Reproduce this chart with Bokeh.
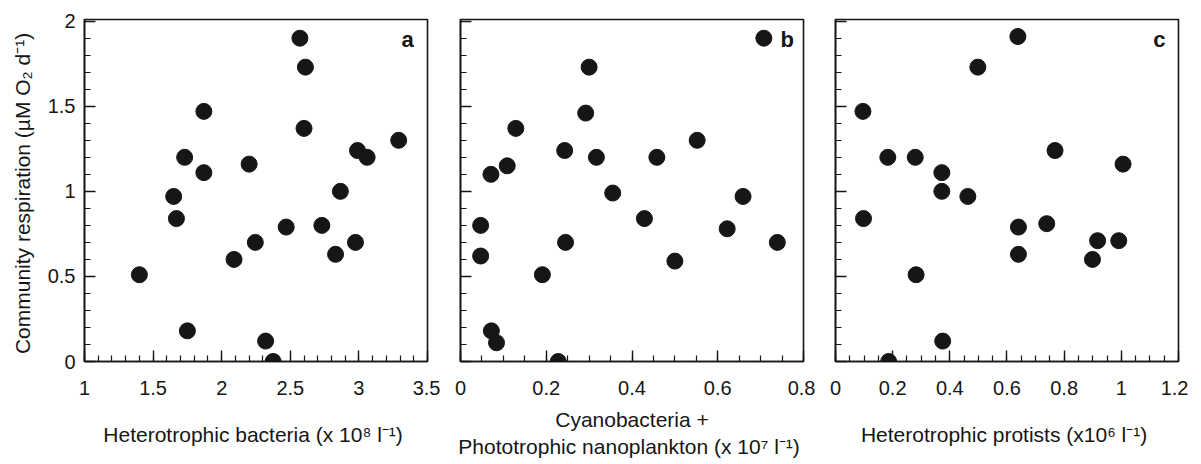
from bokeh.plotting import figure
from bokeh.layouts import row
from bokeh.models import SingleIntervalTicker, CustomJSTickFormatter, Label, Range1d
from bokeh.embed import file_html
from bokeh.resources import INLINE

# ---- data ----
bacteria = [1.40, 1.65, 1.67, 1.73, 1.75, 1.87, 1.87, 2.09, 2.20, 2.245, 2.32, 2.375,
            2.47, 2.57, 2.61, 2.60, 2.73, 2.865, 2.83, 2.99, 2.975, 3.06, 3.29]
resp_a = [0.51, 0.97, 0.84, 1.20, 0.18, 1.47, 1.11, 0.60, 1.16, 0.70, 0.12, 0.0,
          0.79, 1.90, 1.73, 1.37, 0.80, 1.00, 0.63, 1.24, 0.70, 1.20, 1.30]

phyto = [0.7075, 0.30, 0.292, 0.129, 0.243, 0.317, 0.458, 0.552, 0.109, 0.071, 0.355, 0.659,
         0.429, 0.047, 0.622, 0.245, 0.739, 0.047, 0.50, 0.191, 0.072, 0.084, 0.228]
resp_b = [1.90, 1.73, 1.46, 1.37, 1.24, 1.20, 1.20, 1.30, 1.15, 1.10, 0.99, 0.97,
          0.84, 0.80, 0.78, 0.70, 0.70, 0.62, 0.59, 0.51, 0.18, 0.11, 0.0]

protists = [0.638, 0.498, 0.096, 0.183, 0.279, 0.768, 1.006, 0.372, 0.372, 0.463,
            0.098, 0.640, 0.739, 0.640, 0.917, 0.991, 0.899, 0.282, 0.375, 0.186]
resp_c = [1.91, 1.73, 1.47, 1.20, 1.20, 1.24, 1.16, 1.11, 1.00, 0.97,
          0.84, 0.79, 0.81, 0.63, 0.71, 0.71, 0.60, 0.51, 0.12, 0.0]

y_label = "Community  respiration (\u00b5M O\u2082 d\u207b\u00b9)"
x_labels = ["Heterotrophic  bacteria (x 10\u2078 l\u207b\u00b9)",
            "Cyanobacteria +\nPhototrophic  nanoplankton (x 10\u2077 l\u207b\u00b9)",
            "Heterotrophic  protists (x10\u2076 l\u207b\u00b9)"]
panel_letters = ["a", "b", "c"]

FONT = "Liberation Sans"
INK = "#161616"

num_fmt = CustomJSTickFormatter(code="return (Math.round(tick*100)/100).toString();")
blank_fmt = CustomJSTickFormatter(code="return '';")


def make_panel(xs, ys, xr, xint, xminor, xlabel, letter, letter_pos, left, right,
               show_ylabels, xlabel_standoff):
    p = figure(frame_width=343, frame_height=342,
               x_range=Range1d(*xr), y_range=Range1d(0, 2.01),
               output_backend="svg", toolbar_location=None,
               min_border_left=left, min_border_right=right,
               min_border_top=19, min_border_bottom=10,
               background_fill_color="white", border_fill_color="white")
    p.grid.visible = False
    p.outline_line_color = INK
    p.outline_line_width = 1.6

    for ax, ticker in ((p.xaxis[0], SingleIntervalTicker(interval=xint, num_minor_ticks=xminor)),
                      (p.yaxis[0], SingleIntervalTicker(interval=0.5, num_minor_ticks=5))):
        ax.ticker = ticker
        ax.axis_line_color = INK
        ax.axis_line_width = 1.6
        ax.major_tick_line_color = INK
        ax.minor_tick_line_color = INK
        ax.major_tick_line_width = 1.4
        ax.minor_tick_line_width = 1.2
        ax.major_tick_in = 11
        ax.major_tick_out = 0
        ax.minor_tick_in = 6
        ax.minor_tick_out = 0
        ax.major_label_text_font = FONT
        ax.major_label_text_font_size = "20px"
        ax.major_label_text_color = INK
        ax.axis_label_text_font = FONT
        ax.axis_label_text_font_size = "21px"
        ax.axis_label_text_font_style = "normal"
        ax.axis_label_text_color = INK

    p.xaxis.formatter = num_fmt
    p.xaxis.major_label_standoff = 19
    p.xaxis.axis_label = xlabel
    p.xaxis.axis_label_standoff = xlabel_standoff

    if show_ylabels:
        p.yaxis.formatter = num_fmt
        p.yaxis.major_label_standoff = 9
        p.yaxis.axis_label = y_label
        p.yaxis.axis_label_standoff = 11
    else:
        p.yaxis.formatter = blank_fmt
        p.yaxis.major_label_standoff = 0

    p.scatter(xs, ys, size=16, color=INK, line_color=INK)

    p.add_layout(Label(x=letter_pos[0], y=letter_pos[1], text=letter,
                       text_font=FONT, text_font_size="22px", text_font_style="bold",
                       text_align="center", text_baseline="middle", text_color=INK))
    return p


pa = make_panel(bacteria, resp_a, (1, 3.5), 0.5, 5, x_labels[0], panel_letters[0],
                (3.355, 1.89), 84, 13, True, 25)
pb = make_panel(phyto, resp_b, (0, 0.8), 0.2, 4, x_labels[1], panel_letters[1],
                (0.762, 1.89), 20, 12, False, 10)
pc = make_panel(protists, resp_c, (0, 1.2000001), 0.2, 4, x_labels[2], panel_letters[2],
                (1.133, 1.89), 20, 10, False, 25)

layout = row(pa, pb, pc, spacing=0)
open("out.html", "w").write(file_html(layout, INLINE))
